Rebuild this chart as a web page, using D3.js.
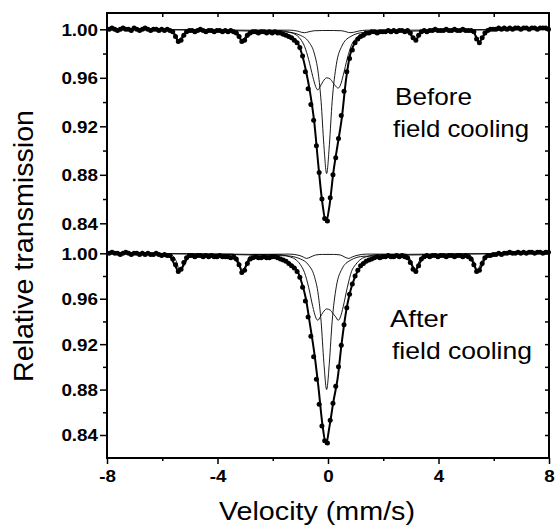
<!DOCTYPE html>
<html><head><meta charset="utf-8">
<script src="https://cdn.jsdelivr.net/npm/d3@7"></script>
<style>body{margin:0;background:#fff}svg{display:block}</style>
</head><body><svg id="c" width="557" height="529"></svg>
<script>
// ---------- DATA ----------
const velocity = [
-7.92,-7.82,-7.72,-7.62,-7.52,-7.42,-7.32,-7.22,-7.12,-7.02,
-6.92,-6.82,-6.72,-6.62,-6.52,-6.42,-6.32,-6.22,-6.12,-6.02,
-5.92,-5.82,-5.72,-5.62,-5.52,-5.42,-5.32,-5.22,-5.12,-5.02,
-4.92,-4.82,-4.72,-4.62,-4.52,-4.42,-4.32,-4.22,-4.12,-4.02,
-3.92,-3.82,-3.72,-3.62,-3.52,-3.42,-3.32,-3.22,-3.12,-3.02,
-2.92,-2.82,-2.72,-2.62,-2.52,-2.42,-2.32,-2.22,-2.12,-2.02,
-1.92,-1.82,-1.72,-1.62,-1.52,-1.42,-1.32,-1.22,-1.12,-1.02,
-0.92,-0.82,-0.72,-0.62,-0.52,-0.42,-0.32,-0.22,-0.12,-0.02,
0.08,0.18,0.28,0.38,0.48,0.58,0.68,0.78,0.88,0.98,
1.08,1.18,1.28,1.38,1.48,1.58,1.68,1.78,1.88,1.98,
2.08,2.18,2.28,2.38,2.48,2.58,2.68,2.78,2.88,2.98,
3.08,3.18,3.28,3.38,3.48,3.58,3.68,3.78,3.88,3.98,
4.08,4.18,4.28,4.38,4.48,4.58,4.68,4.78,4.88,4.98,
5.08,5.18,5.28,5.38,5.48,5.58,5.68,5.78,5.88,5.98,
6.08,6.18,6.28,6.38,6.48,6.58,6.68,6.78,6.88,6.98,
7.08,7.18,7.28,7.38,7.48,7.58,7.68,7.78,7.88,7.98];

const beforeData = [
1.000,1.001,1.000,0.999,1.000,1.001,1.000,1.000,0.999,1.001,
1.000,0.999,1.000,1.001,1.000,0.999,1.000,1.000,0.999,1.000,
0.999,1.000,0.999,0.998,0.994,0.990,0.991,0.995,0.998,0.999,
0.999,0.998,0.999,1.000,0.999,0.998,0.999,0.999,0.998,0.999,
0.999,0.998,0.999,0.998,0.999,0.998,0.997,0.994,0.990,0.991,
0.995,0.997,0.998,0.998,0.997,0.998,0.998,0.997,0.998,0.997,
0.998,0.997,0.997,0.996,0.995,0.994,0.993,0.991,0.989,0.985,
0.978,0.965,0.951,0.938,0.925,0.904,0.882,0.860,0.844,0.842,
0.861,0.880,0.894,0.910,0.929,0.949,0.965,0.976,0.983,0.989,
0.992,0.994,0.995,0.997,0.997,0.998,0.998,0.997,0.998,0.998,
0.998,0.999,0.998,0.999,0.998,0.999,0.999,0.998,0.999,0.997,
0.993,0.991,0.995,0.998,0.999,0.998,0.999,0.999,1.000,0.999,
0.999,0.999,1.000,0.999,0.999,1.000,0.999,0.999,1.000,0.999,
0.999,0.999,0.998,0.992,0.989,0.993,0.997,0.999,1.000,1.000,
1.000,1.001,1.000,1.001,1.000,1.001,1.000,1.001,1.001,1.000,
1.001,1.001,1.000,1.001,1.001,1.000,1.001,1.001,1.001,1.000];

const afterData = [
1.000,1.001,1.000,1.000,0.999,1.000,1.001,1.000,0.999,1.000,
1.000,0.999,1.000,0.999,1.000,0.999,0.999,1.000,0.999,0.998,
0.999,0.998,0.998,0.995,0.990,0.984,0.986,0.992,0.996,0.998,
0.998,0.997,0.998,0.998,0.997,0.998,0.997,0.998,0.997,0.997,
0.998,0.997,0.997,0.997,0.996,0.997,0.995,0.990,0.983,0.985,
0.991,0.995,0.996,0.997,0.996,0.996,0.997,0.996,0.996,0.997,
0.997,0.996,0.995,0.994,0.993,0.991,0.989,0.987,0.984,0.979,
0.970,0.958,0.944,0.927,0.909,0.889,0.867,0.848,0.835,0.833,
0.853,0.868,0.883,0.900,0.919,0.937,0.952,0.964,0.973,0.980,
0.985,0.989,0.991,0.993,0.994,0.995,0.996,0.997,0.996,0.997,
0.997,0.998,0.997,0.997,0.998,0.997,0.998,0.997,0.996,0.992,
0.986,0.984,0.989,0.995,0.997,0.998,0.997,0.998,0.998,0.997,
0.998,0.998,0.997,0.998,0.998,0.997,0.998,0.998,0.997,0.998,
0.997,0.995,0.990,0.984,0.985,0.991,0.996,0.998,0.998,0.999,
0.999,1.000,0.999,1.000,1.000,1.001,1.000,1.000,1.001,1.000,
1.001,1.000,1.001,1.001,1.000,1.001,1.001,1.000,1.001,1.001];

// total fit curves
const beforeFitV = [-8,-6.0,-5.7,-5.55,-5.42,-5.3,-5.15,-4.9,-4.0,-3.4,-3.25,-3.12,-3.0,-2.85,-2.6,-2.0,-1.6,-1.3,-1.1,-0.95,-0.8,-0.65,-0.5,-0.35,-0.2,-0.07,0.05,0.2,0.35,0.5,0.65,0.8,0.95,1.1,1.3,1.6,2.0,2.7,2.95,3.08,3.18,3.3,3.45,4.5,5.25,5.38,5.48,5.6,5.72,6.0,8];
const beforeFitT = [1.0000,0.9998,0.9990,0.9955,0.9905,0.9920,0.9970,0.9988,0.9987,0.9978,0.9950,0.9905,0.9920,0.9960,0.9977,0.9978,0.9962,0.9930,0.9890,0.9800,0.9660,0.9480,0.9240,0.8880,0.8560,0.8410,0.8540,0.8830,0.9050,0.9270,0.9580,0.9790,0.9880,0.9925,0.9950,0.9972,0.9980,0.9985,0.9965,0.9930,0.9910,0.9955,0.9982,0.9992,0.9985,0.9925,0.9895,0.9935,0.9975,0.9998,1.0005];
const afterFitV = [-8,-6.2,-5.75,-5.55,-5.4,-5.25,-5.05,-4.8,-3.6,-3.35,-3.22,-3.1,-2.95,-2.8,-2.5,-2.0,-1.6,-1.3,-1.1,-0.95,-0.8,-0.65,-0.5,-0.35,-0.2,-0.07,0.05,0.2,0.35,0.5,0.65,0.8,0.95,1.1,1.3,1.6,2.0,2.6,2.9,3.03,3.15,3.28,3.45,3.8,4.8,5.15,5.28,5.4,5.52,5.68,5.9,6.5,8];
const afterFitT = [1.0003,0.9994,0.9975,0.9900,0.9840,0.9885,0.9965,0.9978,0.9970,0.9945,0.9900,0.9835,0.9895,0.9950,0.9965,0.9965,0.9940,0.9895,0.9840,0.9740,0.9600,0.9370,0.9130,0.8830,0.8490,0.8320,0.8470,0.8700,0.8900,0.9220,0.9480,0.9660,0.9775,0.9855,0.9910,0.9950,0.9968,0.9972,0.9950,0.9900,0.9840,0.9895,0.9960,0.9977,0.9977,0.9955,0.9905,0.9840,0.9870,0.9950,0.9985,1.0000,1.0007];

// sub-spectra (thin lines)
const beforeSextetV = [-8,-5.75,-5.6,-5.5,-5.42,-5.34,-5.22,-5.05,-3.45,-3.3,-3.2,-3.12,-3.04,-2.92,-2.75,-1.4,-1.1,-0.95,-0.85,-0.72,-0.5,-0.2,0.2,0.5,0.68,0.8,0.92,1.1,1.4,2.8,2.98,3.08,3.16,3.24,3.35,3.52,5.15,5.32,5.4,5.48,5.56,5.66,5.82,8];
const beforeSextetT = [1.000,0.9995,0.998,0.995,0.991,0.9925,0.9965,0.9993,0.9994,0.998,0.995,0.991,0.9925,0.9965,0.9993,0.9993,0.9985,0.9975,0.9972,0.9978,0.9988,0.9990,0.9990,0.9988,0.9978,0.9972,0.9975,0.9985,0.9993,0.9994,0.9965,0.993,0.9915,0.9935,0.997,0.9993,0.9994,0.9965,0.9925,0.9895,0.9925,0.9965,0.9993,1.000];
const beforeDoubletV = [-8,-1.8,-1.4,-1.2,-1.0,-0.85,-0.7,-0.55,-0.45,-0.37,-0.28,-0.18,-0.05,0.08,0.18,0.28,0.37,0.45,0.55,0.7,0.85,1.0,1.2,1.4,1.8,8];
const beforeDoubletT = [1.000,0.9990,0.9975,0.996,0.992,0.986,0.975,0.961,0.953,0.950,0.953,0.957,0.960,0.959,0.956,0.953,0.9515,0.954,0.962,0.976,0.987,0.992,0.996,0.9975,0.9990,1.000];
const beforeSingletV = [-8,-1.5,-1.0,-0.7,-0.5,-0.35,-0.25,-0.15,-0.05,0.05,0.15,0.3,0.5,0.8,1.3,8];
const beforeSingletT = [1.000,0.9978,0.9950,0.9897,0.9804,0.9634,0.9405,0.9048,0.881,0.9048,0.9405,0.9707,0.9861,0.9938,0.9974,1.000];

const afterSextetV = [-8,-5.72,-5.56,-5.46,-5.38,-5.3,-5.18,-5.0,-3.45,-3.3,-3.2,-3.1,-3.02,-2.9,-2.72,-1.4,-1.05,-0.9,-0.78,-0.65,-0.45,-0.2,0.2,0.45,0.62,0.75,0.88,1.05,1.4,2.8,2.98,3.07,3.15,3.23,3.35,3.52,5.05,5.22,5.32,5.4,5.48,5.6,5.78,8];
const afterSextetT = [1.000,0.9993,0.996,0.991,0.9845,0.987,0.9945,0.9990,0.9993,0.996,0.991,0.9835,0.987,0.9945,0.9990,0.9993,0.9982,0.9968,0.9955,0.9965,0.9985,0.9990,0.9990,0.9985,0.9965,0.9955,0.9968,0.9982,0.9993,0.9993,0.9945,0.989,0.985,0.989,0.9955,0.9990,0.9993,0.9960,0.990,0.9845,0.988,0.9945,0.9990,1.000];
const afterDoubletV = [-8,-1.8,-1.4,-1.2,-1.0,-0.85,-0.7,-0.55,-0.45,-0.37,-0.28,-0.18,-0.05,0.08,0.18,0.28,0.37,0.45,0.55,0.7,0.85,1.0,1.2,1.4,1.8,8];
const afterDoubletT = [1.000,0.9988,0.997,0.995,0.990,0.983,0.970,0.953,0.944,0.941,0.944,0.948,0.951,0.950,0.947,0.944,0.941,0.944,0.953,0.970,0.984,0.990,0.995,0.997,0.9988,1.000];
const afterSingletV = [-8,-1.5,-1.0,-0.7,-0.5,-0.35,-0.25,-0.15,-0.05,0.05,0.15,0.3,0.5,0.8,1.3,8];
const afterSingletT = [1.000,0.9978,0.9950,0.9896,0.9802,0.9631,0.940,0.904,0.880,0.904,0.940,0.9705,0.986,0.9937,0.9974,1.000];

const xMajorTicks = [-8,-4,0,4,8];
const xMinorTicks = [-6,-2,2,6];
const yMajorTicks = [0.84,0.88,0.92,0.96,1.00];
const yMinorTicks = [0.86,0.90,0.94,0.98];
const panelLabels = [["Before","field cooling"],["After","field cooling"]];

// ---------- LAYOUT ----------
const FONT = "Liberation Sans, Arial, Helvetica, sans-serif";
const X0 = 107, X1 = 549, YT = 13, YB = 458;
const svg = d3.select("#c");
svg.append("rect").attr("width",557).attr("height",529).attr("fill","#fff");

const x = d3.scaleLinear().domain([-8,8]).range([X0,X1]);
const yTop = d3.scaleLinear().domain([0.84,1.00]).range([223.3,29.3]);
const yBot = d3.scaleLinear().domain([0.84,1.00]).range([435,253.3]);

function fitWidth(sel, w){ sel.attr("textLength",w).attr("lengthAdjust","spacingAndGlyphs"); }
function stretch(sel, f){
  sel.each(function(){ const L=this.getComputedTextLength(); d3.select(this).attr("textLength",L*f).attr("lengthAdjust","spacingAndGlyphs"); });
}

function panel(y, data, fitV, fitT, comps, labels, lab){
  const g = svg.append("g");
  const line = d3.line().x(d=>x(d[0])).y(d=>y(d[1])).curve(d3.curveMonotoneX);
  comps.forEach(([V,T])=>{
    g.append("path").datum(d3.zip(V,T)).attr("d",line)
     .attr("fill","none").attr("stroke","#000").attr("stroke-width",0.9);
  });
  g.append("path").datum(d3.zip(fitV,fitT)).attr("d",line)
   .attr("fill","none").attr("stroke","#000").attr("stroke-width",2);
  g.selectAll("circle").data(d3.zip(velocity,data)).join("circle")
   .attr("cx",d=>x(d[0])).attr("cy",d=>y(d[1])).attr("r",2.5).attr("fill","#000");
  // left axis
  const la = svg.append("g").attr("transform",`translate(${X0},0)`)
    .call(d3.axisLeft(y).tickValues(yMajorTicks).tickSize(7).tickPadding(2).tickFormat(d3.format(".2f")));
  la.select(".domain").remove();
  la.selectAll("line").attr("stroke-width",1.5);
  la.selectAll("text").attr("font-family",FONT).attr("font-size",16.5).attr("font-weight","bold").attr("fill","#000").attr("dy","0.36em");
  const lm = svg.append("g").attr("transform",`translate(${X0},0)`)
    .call(d3.axisLeft(y).tickValues(yMinorTicks).tickSize(4).tickFormat(""));
  lm.select(".domain").remove(); lm.selectAll("line").attr("stroke-width",1.5);
  // right axis (inward)
  const ra = svg.append("g").attr("transform",`translate(${X1},0)`)
    .call(d3.axisLeft(y).tickValues(yMajorTicks.concat(yMinorTicks)).tickSize(4).tickFormat(""));
  ra.select(".domain").remove(); ra.selectAll("line").attr("stroke-width",1.5);
  // labels
  const t1 = svg.append("text").attr("x",lab.x1).attr("y",lab.y1).attr("font-family",FONT).attr("font-size",24).attr("fill","#000").text(labels[0]);
  fitWidth(t1, lab.w1);
  const t2 = svg.append("text").attr("x",lab.x2).attr("y",lab.y2).attr("font-family",FONT).attr("font-size",24).attr("fill","#000").text(labels[1]);
  fitWidth(t2, lab.w2);
}

panel(yTop, beforeData, beforeFitV, beforeFitT,
  [[beforeSextetV,beforeSextetT],[beforeDoubletV,beforeDoubletT],[beforeSingletV,beforeSingletT]],
  panelLabels[0], {x1:395,y1:105,w1:77,x2:393,y2:137,w2:136});
panel(yBot, afterData, afterFitV, afterFitT,
  [[afterSextetV,afterSextetT],[afterDoubletV,afterDoubletT],[afterSingletV,afterSingletT]],
  panelLabels[1], {x1:390,y1:327,w1:58,x2:392,y2:359,w2:140});

// top axis (inward)
const ta = svg.append("g").attr("transform",`translate(0,${YT})`)
  .call(d3.axisBottom(x).tickValues([-6,-4,-2,0,2,4,6]).tickSize(4).tickFormat(""));
ta.select(".domain").remove(); ta.selectAll("line").attr("stroke-width",1.5);
// bottom axis
const ba = svg.append("g").attr("transform",`translate(0,${YB})`)
  .call(d3.axisBottom(x).tickValues(xMajorTicks).tickSize(6).tickPadding(6).tickFormat(d=>String(d)));
ba.select(".domain").remove(); ba.selectAll("line").attr("stroke-width",1.5);
ba.selectAll("text").attr("font-family",FONT).attr("font-size",16.5).attr("font-weight","bold").attr("fill","#000").attr("dy","0.71em");
const bm = svg.append("g").attr("transform",`translate(0,${YB})`)
  .call(d3.axisBottom(x).tickValues(xMinorTicks).tickSize(3).tickFormat(""));
bm.select(".domain").remove(); bm.selectAll("line").attr("stroke-width",1.5);

// frame
svg.append("rect").attr("x",X0).attr("y",YT).attr("width",X1-X0).attr("height",YB-YT)
  .attr("fill","none").attr("stroke","#000").attr("stroke-width",2);

// axis titles
const xt = svg.append("text").attr("x",317).attr("y",520).attr("text-anchor","middle")
  .attr("font-family",FONT).attr("font-size",25).attr("fill","#000").text("Velocity (mm/s)");
fitWidth(xt, 196);
const yt = svg.append("text").attr("transform","translate(33,246) rotate(-90)").attr("text-anchor","middle")
  .attr("font-family",FONT).attr("font-size",27).attr("fill","#000").text("Relative transmission");
fitWidth(yt, 272);

stretch(svg.selectAll(".tick text"), 1.14);
</script></body></html>
